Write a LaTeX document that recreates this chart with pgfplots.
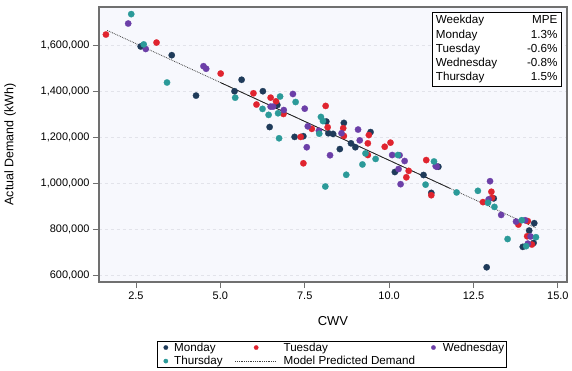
\documentclass[border=0pt]{standalone}
\usepackage{fontspec}
\setmainfont{Liberation Sans}
\usepackage{pgfplots}
\pgfplotsset{compat=1.18}
\definecolor{mon}{HTML}{1F3B5A}
\definecolor{tue}{HTML}{E0242F}
\definecolor{wed}{HTML}{6C3FA8}
\definecolor{thu}{HTML}{2B9A99}
\definecolor{bgc}{HTML}{F7F8FD}
\definecolor{framec}{HTML}{707070}
\definecolor{gridc}{HTML}{E2E3EA}
\pgfplotsset{
  legdotA/.style={legend image code/.code={\path (-5.5bp,0bp) (8bp,0bp); \draw[##1, mark size=2.2bp] plot coordinates {(0bp,0bp)};}},
  legdotB/.style={legend image code/.code={\path (-28bp,0bp) (28bp,0bp); \draw[##1, mark size=2.2bp] plot coordinates {(1bp,0bp)};}},
  legdotC/.style={legend image code/.code={\path (-14bp,0bp) (9bp,0bp); \draw[##1, mark size=2.2bp] plot coordinates {(0bp,0bp)};}},
  legline/.style={legend image code/.code={\path (-28bp,0bp) (28bp,0bp); \draw[##1, line width=0.6bp] (-20bp,0bp) -- (21bp,0bp);}},
}
\begin{document}
\begin{tikzpicture}
\useasboundingbox (-99bp,-89bp) rectangle (473bp,282bp);
\begin{axis}[
  at={(0,0)}, anchor=south west,
  scale only axis, width=468bp, height=275bp,
  xmin=1.405, xmax=15.27, ymin=570800, ymax=1769000,
  axis background/.style={fill=bgc},
  axis line style={draw=framec, line width=1.1bp},
  xtick={2.5,5,7.5,10,12.5,15},
  ytick={600000,800000,1000000,1200000,1400000,1600000},
  scaled y ticks=false, scaled x ticks=false,
  tick align=outside, tick pos=left,
  major tick length=6bp,
  tick style={draw=framec, line width=0.8bp},
  ymajorgrids, grid style={draw=gridc, dashed, line width=0.6bp},
  /pgf/number format/assume math mode=true,
  xticklabel style={font=\fontsize{11}{13}\selectfont, /pgf/number format/fixed, /pgf/number format/fixed zerofill, /pgf/number format/precision=1},
  yticklabel style={font=\fontsize{11}{13}\selectfont, /pgf/number format/fixed, /pgf/number format/1000 sep={,}},
  xlabel={CWV}, ylabel={Actual Demand (kWh)},
  x label style={at={(axis description cs:0.5,-0.142)}, anchor=center, font=\fontsize{13}{15}\selectfont},
  y label style={at={(axis description cs:-0.190,0.5)}, anchor=center, font=\fontsize{12.5}{15}\selectfont},
  legend columns=3,
  legend cell align=left,
  legend style={at={(axis description cs:0.498,-0.2135)}, anchor=north,
    draw=black, line width=0.7bp, fill=white,
    inner xsep=2.5bp, inner ysep=1.5bp, column sep=0bp, row sep=3.6bp,
    font=\fontsize{11.7}{13}\selectfont,
    nodes={inner sep=0bp},
    /tikz/every even column/.append style={column sep=4bp}},
]
\addplot[only marks, mark=*, mark size=3.2bp, mark options={fill=mon, draw=mon, line width=0.2bp}, legdotA]
coordinates {
(2.64,1597000)(3.56,1559000)(4.28,1383000)(5.63,1452000)(5.42,1402000)(6.26,1402000)(6.69,1342000)
(6.46,1246000)(7.2,1203000)(7.46,1206000)(8.14,1270000)(8.66,1264000)(8.2,1219000)(8.34,1216000)
(8.54,1150000)(9.45,1224000)(8.87,1175000)(9.0,1158000)(10.17,1050000)(11.02,1037000)(11.46,1073000)
(11.25,959000)(13.1,935000)(12.89,635000)(14.3,827000)(14.15,795000)(13.96,724000)(14.28,741000)
};
\addlegendentry{Monday}
\addplot[only marks, mark=*, mark size=3.2bp, mark options={fill=tue, draw=tue, line width=0.2bp}, legdotB]
coordinates {
(1.61,1649000)(3.11,1614000)(5.01,1479000)(5.98,1393000)(6.07,1344000)(6.49,1374000)(6.65,1358000)
(6.87,1303000)(7.38,1203000)(7.71,1238000)(7.46,1088000)(8.12,1338000)(8.64,1241000)(8.18,1245000)
(8.66,1207000)(9.4,1211000)(9.37,1175000)(9.87,1160000)(10.04,1178000)(9.37,1124000)(10.58,1055000)
(10.51,1027000)(11.1,1102000)(11.25,949000)(13.03,964000)(13.05,938000)(12.78,919000)(13.83,821000)
(14.11,836000)(14.09,770000)(14.23,734000)
};
\addlegendentry{Tuesday}
\addplot[only marks, mark=*, mark size=3.2bp, mark options={fill=wed, draw=wed, line width=0.2bp}, legdotC]
coordinates {
(2.27,1697000)(2.79,1586000)(4.50,1511000)(4.58,1500000)(6.49,1335000)(6.56,1335000)(6.88,1320000)
(7.15,1390000)(7.5,1326000)(7.56,1158000)(7.59,1249000)(7.92,1230000)(8.59,1219000)(8.25,1123000)
(9.08,1235000)(9.13,1188000)(10.09,1124000)(10.31,1123000)(10.46,1098000)(10.28,1063000)(10.34,997000)
(11.38,1076000)(11.41,1073000)(12.99,1010000)(12.95,931000)(13.32,863000)(13.76,834000)(14.03,840000)
(14.19,769000)(14.11,738000)
};
\addlegendentry{Wednesday}
\addplot[only marks, mark=*, mark size=3.2bp, mark options={fill=thu, draw=thu, line width=0.2bp}, legdotA]
coordinates {
(2.36,1738000)(2.73,1606000)(3.42,1440000)(5.44,1374000)(6.25,1325000)(6.43,1299000)(6.71,1306000)
(6.77,1379000)(7.23,1355000)(6.74,1197000)(7.93,1217000)(7.98,1290000)(8.04,1272000)(8.73,1038000)
(8.11,987000)(9.3,1131000)(9.21,1083000)(9.6,1107000)(10.26,1124000)(11.33,1096000)(11.08,995000)
(12.0,961000)(12.63,968000)(12.93,916000)(13.12,898000)(13.51,758000)(13.93,840000)(14.35,766000)
(14.06,727000)
};
\addlegendentry{Thursday}
\addplot[black, line width=0.7bp, forget plot] coordinates {(5.0,1440000)(11.8,979000)};
\addplot[black!75, densely dotted, line width=0.8bp, legline] coordinates {(1.65,1667000)(14.35,806500)};
\addlegendentry{Model Predicted Demand}
\end{axis}
\draw[line width=0.8bp, fill=white] (333.3bp,196bp) rectangle (462bp,269.7bp);
\begin{scope}[font=\fontsize{11.7}{14}\selectfont, inner sep=0bp]
\node[anchor=base west] at (336.7bp,258bp) {Weekday};
\node[anchor=base west] at (336.7bp,243.8bp) {Monday};
\node[anchor=base west] at (336.7bp,229.6bp) {Tuesday};
\node[anchor=base west] at (336.7bp,215.4bp) {Wednesday};
\node[anchor=base west] at (336.7bp,201.2bp) {Thursday};
\node[anchor=base east] at (458.7bp,258bp) {MPE};
\node[anchor=base east] at (458.7bp,243.8bp) {1.3\%};
\node[anchor=base east] at (458.7bp,229.6bp) {-0.6\%};
\node[anchor=base east] at (458.7bp,215.4bp) {-0.8\%};
\node[anchor=base east] at (458.7bp,201.2bp) {1.5\%};
\end{scope}
\end{tikzpicture}
\end{document}
